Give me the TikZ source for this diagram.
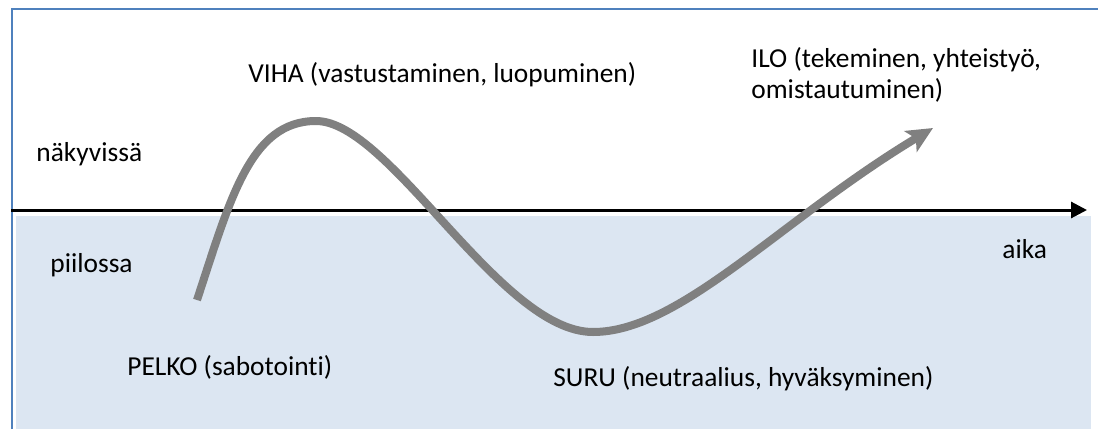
\documentclass[tikz,border=0pt]{standalone}
\usepackage{fontspec}
\setmainfont{Carlito}[Ligatures=NoCommon]
\usetikzlibrary{arrows.meta, positioning}
\definecolor{frameBlue}{RGB}{79,129,189}
\definecolor{hiddenBox}{RGB}{220,230,242}
\definecolor{curveGray}{RGB}{128,128,128}

\begin{document}
\begin{tikzpicture}[
    x=0.5pt, y=-0.5pt,
    label/.style={anchor=base west, inner sep=0pt, font=\fontsize{13.7}{15.5}\selectfont, align=left},
    wave/.style={draw=curveGray, line width=4pt},
    axisline/.style={draw=black, line width=1.5pt, -{Triangle[length=8pt, width=8pt]}}
]
\useasboundingbox (0,0) rectangle (1098,429);
% frame and hidden area
\fill[hiddenBox] (16,216) rectangle (1091,429);
\draw[frameBlue, line width=1pt] (11.5,429) -- (11.5,8.5) -- (1098,8.5);

% time axis
\coordinate (axisstart) at (11,210);
\coordinate (axisend) at (1087,210);
\draw[axisline] (axisstart) -- (axisend);

% labels
\node[label] (visible) at (36,161) {näkyvissä};
\node[label] (hidden) at (50,272) {piilossa};
\node[label] (time) at (1002,258) {aika};
\node[label] (fear) at (127,375) {PELKO (sabotointi)};
\node[label] (anger) at (248,82) {VIHA (vastustaminen, luopuminen)};
\node[label] (sorrow) at (553,386) {SURU (neutraalius, hyväksyminen)};
\node[label] (joy) at (751,98) {ILO (tekeminen, yhteistyö,\\omistautuminen)};

% emotion curve
\coordinate (start) at (197,300);
\coordinate (peak) at (316,121);
\coordinate (trough) at (593,332);
\coordinate (tip) at (933,128);
\draw[wave, -{Stealth[length=13pt, width=12pt, inset=3pt]}] (start)
    .. controls (230,200) and (250,121) .. (peak)
    .. controls (390,121) and (500,332) .. (trough)
    .. controls (680,332) and (780,220) .. (tip);
\end{tikzpicture}
\end{document}
